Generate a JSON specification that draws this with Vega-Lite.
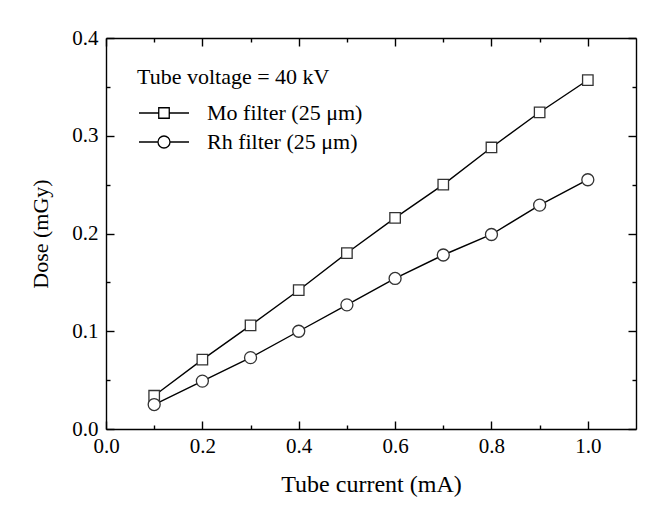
{
  "$schema": "https://vega.github.io/schema/vega-lite/v6.json",
  "width": 530,
  "height": 391,
  "autosize": {"type": "none"},
  "padding": {"left": 106, "top": 38, "right": 19, "bottom": 82},
  "background": "white",
  "config": {
    "font": "Liberation Serif",
    "view": {"stroke": null},
    "axis": {
      "grid": false,
      "domainColor": "black",
      "domainWidth": 1.4,
      "tickColor": "black",
      "tickWidth": 1.4,
      "labelColor": "black",
      "titleColor": "black",
      "labelFont": "Liberation Serif",
      "titleFont": "Liberation Serif",
      "labelFontSize": 21,
      "titleFontWeight": "normal"
    }
  },
  "data": {
    "values": [
      {"current": 0.1, "dose": 0.034, "series": "Mo filter (25 μm)"},
      {"current": 0.2, "dose": 0.071, "series": "Mo filter (25 μm)"},
      {"current": 0.3, "dose": 0.106, "series": "Mo filter (25 μm)"},
      {"current": 0.4, "dose": 0.142, "series": "Mo filter (25 μm)"},
      {"current": 0.5, "dose": 0.180, "series": "Mo filter (25 μm)"},
      {"current": 0.6, "dose": 0.216, "series": "Mo filter (25 μm)"},
      {"current": 0.7, "dose": 0.250, "series": "Mo filter (25 μm)"},
      {"current": 0.8, "dose": 0.288, "series": "Mo filter (25 μm)"},
      {"current": 0.9, "dose": 0.324, "series": "Mo filter (25 μm)"},
      {"current": 1.0, "dose": 0.357, "series": "Mo filter (25 μm)"},
      {"current": 0.1, "dose": 0.025, "series": "Rh filter (25 μm)"},
      {"current": 0.2, "dose": 0.049, "series": "Rh filter (25 μm)"},
      {"current": 0.3, "dose": 0.073, "series": "Rh filter (25 μm)"},
      {"current": 0.4, "dose": 0.100, "series": "Rh filter (25 μm)"},
      {"current": 0.5, "dose": 0.127, "series": "Rh filter (25 μm)"},
      {"current": 0.6, "dose": 0.154, "series": "Rh filter (25 μm)"},
      {"current": 0.7, "dose": 0.178, "series": "Rh filter (25 μm)"},
      {"current": 0.8, "dose": 0.199, "series": "Rh filter (25 μm)"},
      {"current": 0.9, "dose": 0.229, "series": "Rh filter (25 μm)"},
      {"current": 1.0, "dose": 0.255, "series": "Rh filter (25 μm)"}
    ]
  },
  "layer": [
    {
      "mark": {"type": "line", "color": "black", "strokeWidth": 1.4},
      "encoding": {
        "x": {
          "field": "current",
          "type": "quantitative",
          "scale": {"domain": [0, 1.1], "nice": false, "zero": false},
          "axis": {
            "orient": "bottom",
            "title": "Tube current (mA)",
            "titleFontSize": 24,
            "titlePadding": 16,
            "labelFontSize": 21,
            "values": [0, 0.2, 0.4, 0.6, 0.8, 1.0],
            "format": ".1f",
            "ticks": false,
            "labelPadding": 6,
            "labelFlush": false,
            "labelOverlap": false
          }
        },
        "y": {
          "field": "dose",
          "type": "quantitative",
          "scale": {"domain": [0, 0.4], "nice": false},
          "axis": {
            "orient": "left",
            "title": "Dose (mGy)",
            "titleFontSize": 22,
            "titlePadding": 19,
            "labelFontSize": 21,
            "values": [0, 0.1, 0.2, 0.3, 0.4],
            "format": ".1f",
            "ticks": false,
            "labelPadding": 8,
            "labelFlush": false,
            "labelOverlap": false
          }
        },
        "detail": {"field": "series", "type": "nominal"}
      }
    },
    {
      "transform": [{"filter": "indexof(datum.series, 'Mo') === 0"}],
      "mark": {"type": "point", "shape": "square", "size": 110, "filled": true, "fill": "white", "stroke": "#333", "strokeWidth": 1.3, "opacity": 1},
      "encoding": {
        "x": {
          "field": "current",
          "type": "quantitative",
          "axis": {
            "orient": "top",
            "offset": -391,
            "title": null,
            "labels": false,
            "domain": false,
            "values": [0, 0.1, 0.2, 0.3, 0.4, 0.5, 0.6, 0.7, 0.8, 0.9, 1.0],
            "tickSize": {"condition": {"test": "round(datum.value*10)%2==0", "value": 8}, "value": 4}
          }
        },
        "y": {
          "field": "dose",
          "type": "quantitative",
          "axis": {
            "orient": "right",
            "offset": -530,
            "title": null,
            "labels": false,
            "domain": false,
            "values": [0, 0.05, 0.1, 0.15, 0.2, 0.25, 0.3, 0.35, 0.4],
            "tickSize": {"condition": {"test": "round(datum.value*100)%10==0", "value": 8}, "value": 4}
          }
        }
      }
    },
    {
      "transform": [{"filter": "indexof(datum.series, 'Rh') === 0"}],
      "mark": {"type": "point", "shape": "circle", "size": 144, "filled": true, "fill": "white", "stroke": "#333", "strokeWidth": 1.3, "opacity": 1},
      "encoding": {
        "x": {
          "field": "current",
          "type": "quantitative",
          "axis": {
            "orient": "bottom",
            "offset": -391,
            "title": null,
            "labels": false,
            "domain": true,
            "values": [0, 0.1, 0.2, 0.3, 0.4, 0.5, 0.6, 0.7, 0.8, 0.9, 1.0],
            "tickSize": {"condition": {"test": "round(datum.value*10)%2==0", "value": 8}, "value": 4}
          }
        },
        "y": {
          "field": "dose",
          "type": "quantitative",
          "axis": {
            "orient": "left",
            "offset": -530,
            "title": null,
            "labels": false,
            "domain": true,
            "values": [0, 0.05, 0.1, 0.15, 0.2, 0.25, 0.3, 0.35, 0.4],
            "tickSize": {"condition": {"test": "round(datum.value*100)%10==0", "value": 8}, "value": 4}
          }
        }
      }
    },
    {
      "transform": [{"filter": "datum.current > 5"}],
      "mark": {"type": "point", "size": 100, "filled": false, "color": "black", "strokeWidth": 1.3, "opacity": 1},
      "encoding": {
        "x": {"field": "current", "type": "quantitative", "axis": null},
        "y": {"field": "dose", "type": "quantitative", "axis": null},
        "shape": {
          "field": "series",
          "type": "nominal",
          "scale": {
            "domain": ["Mo filter (25 μm)", "Rh filter (25 μm)"],
            "range": [
              "M-1.8,0H2.15M4.25,0H8.2M2.15,-1.05H4.25V1.05H2.15Z",
              "M-1.8,0H2M4.4,0H8.2M2,0A1.2,1.2,0,1,0,4.4,0A1.2,1.2,0,1,0,2,0Z"
            ]
          },
          "legend": {
            "orient": "none",
            "legendX": 31,
            "legendY": 29,
            "padding": 0,
            "title": "Tube voltage = 40 kV",
            "titleFont": "Liberation Serif",
            "titleFontSize": 22,
            "titleFontWeight": "normal",
            "titleColor": "black",
            "titlePadding": 13,
            "titleLimit": 400,
            "labelFont": "Liberation Serif",
            "labelFontSize": 22,
            "labelColor": "black",
            "labelLimit": 400,
            "labelOffset": 48,
            "rowPadding": 7,
            "symbolSize": 100,
            "symbolStrokeWidth": 1.3,
            "symbolStrokeColor": "black",
            "symbolOpacity": 1
          }
        }
      }
    }
  ],
  "resolve": {"axis": {"x": "independent", "y": "independent"}}
}
